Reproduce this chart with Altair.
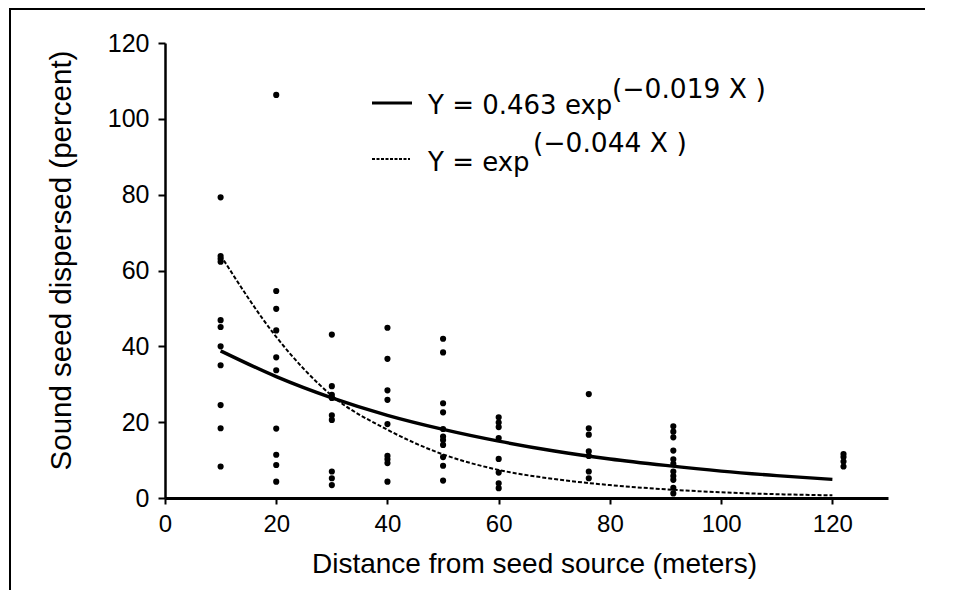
import altair as alt
import pandas as pd

# ---- data ----
col_x = [10, 20, 30, 40, 50, 60, 76.2, 91.4, 122]
col_y = [
    [79.3, 63.8, 63.1, 62.3, 46.9, 45.1, 40.0, 35.0, 24.5, 18.4, 8.3],
    [106.3, 54.6, 49.9, 44.2, 37.1, 33.7, 18.3, 11.4, 8.7, 4.3],
    [43.1, 29.5, 27.2, 26.4, 21.8, 20.6, 7.0, 5.2, 3.4],
    [44.9, 36.7, 28.4, 25.9, 19.5, 11.1, 10.2, 9.2, 4.3],
    [42.0, 38.4, 25.0, 22.6, 18.2, 16.2, 15.3, 14.0, 10.8, 8.5, 4.6],
    [21.3, 19.9, 18.7, 15.8, 10.3, 6.7, 3.9, 2.6],
    [27.4, 18.4, 16.7, 12.3, 11.1, 7.0, 5.2],
    [18.9, 17.5, 16.0, 12.5, 10.2, 9.0, 7.0, 5.8, 4.8, 2.7, 1.2],
    [11.6, 10.8, 9.6, 8.3],
]

curve_x = [10, 20, 30, 40, 50, 60, 70, 80, 90, 100, 110, 120]
solid_y = [38.8, 32.0, 26.4, 21.8, 18.1, 15.0, 12.4, 10.3, 8.6, 7.1, 5.9, 4.9]
dashed_y = [64.0, 42.5, 27.0, 18.0, 11.5, 7.4, 5.0, 3.4, 2.3, 1.5, 1.0, 0.7]

x_ticks = [0, 20, 40, 60, 80, 100, 120]
y_ticks = [0, 20, 40, 60, 80, 100, 120]

legend1_main = "Y = 0.463 exp"
legend1_sup = "(\u22120.019 X )"
legend2_main = "Y = exp"
legend2_sup = "(\u22120.044 X )"

x_title = "Distance from seed source (meters)"
y_title = "Sound seed dispersed (percent)"

# ---- tables ----
pts = pd.DataFrame(
    [{"x": cx, "y": v} for cx, vals in zip(col_x, col_y) for v in vals]
)
curves = pd.DataFrame({"x": curve_x, "solid": solid_y, "dashed": dashed_y})

W, H = 723, 455

xs = alt.Scale(domain=[0, 130], nice=False, zero=False)
ys = alt.Scale(domain=[0, 120], nice=False)

x_axis = alt.Axis(
    values=x_ticks, title=x_title, grid=False, tickSize=6, tickWidth=2,
    domainWidth=2.8, labelFontSize=24, labelFont="Liberation Sans",
    labelPadding=8, labelColor="black", tickColor="black", domainColor="black",
    titleFont="Liberation Sans", titleFontSize=28, titleFontWeight="normal",
    titleColor="black", titleX=369, titleY=74, titleBaseline="alphabetic",
    titleAlign="center", labelFlush=False,
)
y_axis = alt.Axis(
    values=y_ticks, title=y_title, grid=False, tickSize=7, tickWidth=2,
    domainWidth=2.5, labelFontSize=25, labelFont="Liberation Sans",
    labelPadding=9, labelColor="black", tickColor="black", domainColor="black",
    titleFont="Liberation Sans", titleFontSize=29.5, titleFontWeight="normal",
    titleColor="black", titleX=-95, titleY=217, titleBaseline="alphabetic",
    titleAngle=270, titleAlign="center", labelFlush=False,
)

points = alt.Chart(pts).mark_circle(size=38, color="black", opacity=1).encode(
    x=alt.X("x:Q", scale=xs, axis=x_axis),
    y=alt.Y("y:Q", scale=ys, axis=y_axis),
)

solid = alt.Chart(curves).mark_line(
    color="black", strokeWidth=3.4, interpolate="monotone"
).encode(x=alt.X("x:Q", scale=xs), y=alt.Y("solid:Q", scale=ys))

dashed = alt.Chart(curves).mark_line(
    color="black", strokeWidth=2, strokeDash=[4, 2], interpolate="monotone"
).encode(x=alt.X("x:Q", scale=xs), y=alt.Y("dashed:Q", scale=ys))

one = pd.DataFrame({"k": [0]})

leg_line1 = alt.Chart(one).mark_rule(color="black", strokeWidth=2.8).encode(
    x=alt.value(207), x2=alt.value(247), y=alt.value(60)
)
leg_line2 = alt.Chart(one).mark_rule(
    color="black", strokeWidth=1.8, strokeDash=[3, 1.5]
).encode(x=alt.value(207), x2=alt.value(245), y=alt.value(116))


def txt(s, x, y, size):
    return alt.Chart(one).mark_text(
        font="DejaVu Sans", fontSize=size, color="black", align="left",
        baseline="alphabetic",
    ).encode(x=alt.value(x), y=alt.value(y), text=alt.value(s))


t1 = txt(legend1_main, 263, 71, 26)
s1 = txt(legend1_sup, 447, 55, 26.5)
t2 = txt(legend2_main, 263, 128, 26)
s2 = txt(legend2_sup, 368, 109, 26.5)

# figure frame: left and top edges only are within the picture
frame_left = alt.Chart(one).mark_rule(color="black", strokeWidth=2).encode(
    x=alt.value(-155), y=alt.value(-35), y2=alt.value(547)
)
frame_top = alt.Chart(one).mark_rule(color="black", strokeWidth=2).encode(
    x=alt.value(-156), x2=alt.value(760), y=alt.value(-34)
)

chart = alt.layer(
    frame_left, frame_top, dashed, solid, points,
    leg_line1, leg_line2, t1, s1, t2, s2
).properties(
    width=W, height=H,
    autosize=alt.AutoSizeParams(type="none"),
    padding={"left": 157, "top": 35, "right": 55, "bottom": 92},
).configure_view(stroke=None)

chart.save("out.html", embed_options={"renderer": "svg", "actions": False})
